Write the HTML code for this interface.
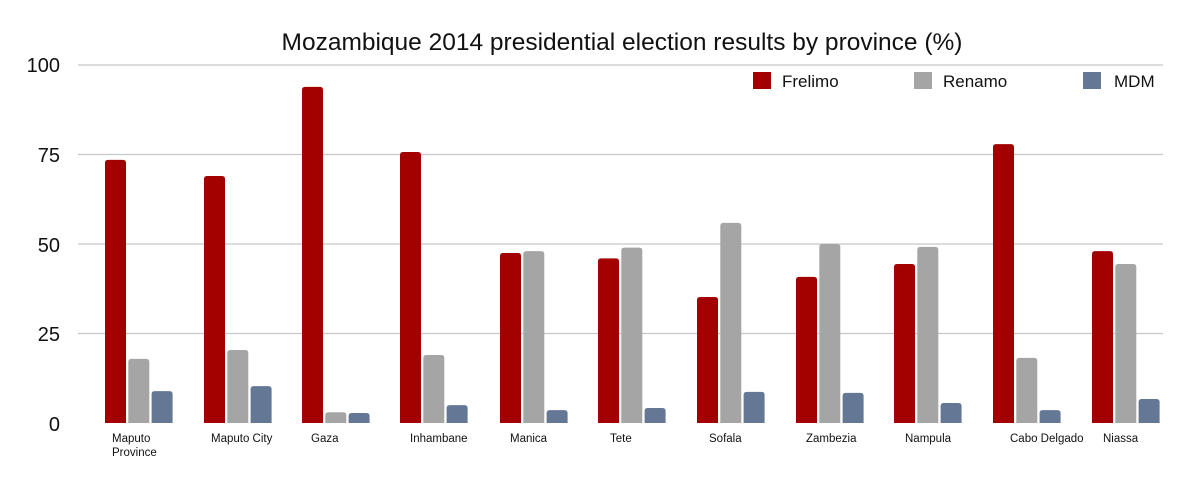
<!DOCTYPE html>
<html><head><style>
body{margin:0;background:#fff;}
svg{display:block;font-family:"Liberation Sans",Arial,sans-serif;}
</style></head><body>
<svg width="1200" height="486" viewBox="0 0 1200 486">
<text x="622" y="50" font-size="24.5" text-anchor="middle" fill="#111">Mozambique 2014 presidential election results by province (%)</text>
<g stroke="#c8c8c8" stroke-width="1.2">
<line x1="78" y1="65" x2="1163" y2="65"/>
<line x1="78" y1="154.5" x2="1163" y2="154.5"/>
<line x1="78" y1="244" x2="1163" y2="244"/>
<line x1="78" y1="333.5" x2="1163" y2="333.5"/>
</g>
<g font-size="20" fill="#111" text-anchor="end">
<text x="60" y="72">100</text>
<text x="60" y="162">75</text>
<text x="60" y="252">50</text>
<text x="60" y="341">25</text>
<text x="60" y="431">0</text>
</g>
<g font-size="17" fill="#111">
<rect x="753" y="72" width="18" height="17" fill="#a30000"/><text x="782" y="87">Frelimo</text>
<rect x="914" y="72" width="18" height="17" fill="#a5a5a5"/><text x="943" y="87">Renamo</text>
<rect x="1083" y="72" width="18" height="17" fill="#647896"/><text x="1114" y="87">MDM</text>
</g>
<g id="bars"></g>
<g font-size="11.5" fill="#111">
<text x="112" y="442">Maputo</text><text x="112" y="456">Province</text>
<text x="211" y="442">Maputo City</text>
<text x="311" y="442">Gaza</text>
<text x="410" y="442">Inhambane</text>
<text x="510" y="442">Manica</text>
<text x="610" y="442">Tete</text>
<text x="709" y="442">Sofala</text>
<text x="806" y="442">Zambezia</text>
<text x="905" y="442">Nampula</text>
<text x="1010" y="442">Cabo Delgado</text>
<text x="1103" y="442">Niassa</text>
</g>
</svg>
<script>
var d=[[73.5,17.9,8.9],[69,20.4,10.3],[93.9,3,2.8],[75.7,19,5],[47.5,48,3.6],[46,49,4.2],[35.2,55.9,8.7],[40.8,50,8.4],[44.4,49.2,5.6],[77.9,18.2,3.6],[48,44.4,6.7]];
var xs=[105,204,302,400,500,598,697,796,894,993,1092];
var c=["#a30000","#a5a5a5","#647896"];
var s="";
d.forEach(function(v,i){v.forEach(function(val,j){var h=val*3.58;var x=xs[i]+j*23.3;var y=423-h;
s+='<path fill="'+c[j]+'" d="M'+x+' 423V'+(y+3)+'Q'+x+' '+y+' '+(x+3)+' '+y+'H'+(x+18)+'Q'+(x+21)+' '+y+' '+(x+21)+' '+(y+3)+'V423Z"/>';});});
document.getElementById("bars").innerHTML=s;
</script>
</body></html>
